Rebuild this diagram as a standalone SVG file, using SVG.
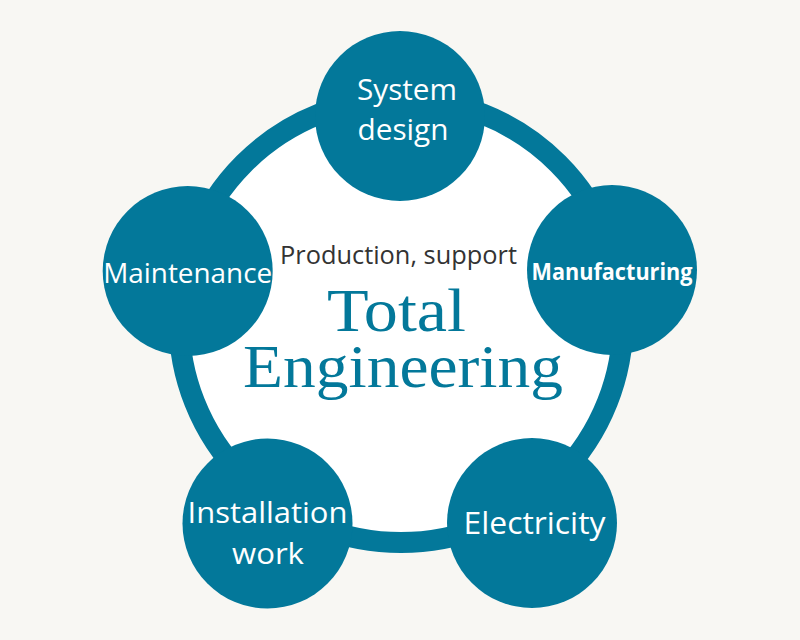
<svg xmlns="http://www.w3.org/2000/svg" width="800" height="640" viewBox="0 0 800 640">
  <style>
    .node { fill: #03789a; }
    .lbl { font-family: "Open Sans", "Noto Sans", "DejaVu Sans", sans-serif; fill: #ffffff; text-anchor: middle; }
    .bold { font-weight: bold; }
    .mid { font-family: "Open Sans", "Noto Sans", "DejaVu Sans", sans-serif; fill: #333333; text-anchor: middle; }
    .big { font-family: "Liberation Serif", "DejaVu Serif", serif; fill: #03789a; text-anchor: middle; }
  </style>
  <rect x="0" y="0" width="800" height="640" fill="#f8f7f3"/>
  <g id="connectors">
    <circle cx="401" cy="320.5" r="222" fill="#ffffff" stroke="#03789a" stroke-width="21"/>
  </g>
  <g id="center">
    <text class="mid" x="398.5" y="264" font-size="25" textLength="237" lengthAdjust="spacingAndGlyphs">Production, support</text>
    <text class="big" x="396.5" y="330.5" font-size="62" textLength="139" lengthAdjust="spacingAndGlyphs">Total</text>
    <text class="big" x="403" y="387" font-size="62" textLength="320" lengthAdjust="spacingAndGlyphs">Engineering</text>
  </g>
  <g id="system-design">
    <circle class="node" cx="400" cy="116" r="85"/>
    <text class="lbl" x="407" y="100" font-size="30" textLength="100" lengthAdjust="spacingAndGlyphs">System</text>
    <text class="lbl" x="403" y="140" font-size="30" textLength="91" lengthAdjust="spacingAndGlyphs">design</text>
  </g>
  <g id="manufacturing">
    <circle class="node" cx="612" cy="270" r="85"/>
    <text class="lbl bold" x="612" y="280" font-size="24" textLength="161" lengthAdjust="spacingAndGlyphs">Manufacturing</text>
  </g>
  <g id="electricity">
    <circle class="node" cx="532" cy="523" r="85"/>
    <text class="lbl" x="534.5" y="534" font-size="31" textLength="142" lengthAdjust="spacingAndGlyphs">Electricity</text>
  </g>
  <g id="installation-work">
    <circle class="node" cx="267.5" cy="523.5" r="85"/>
    <text class="lbl" x="267.5" y="523" font-size="30" textLength="160" lengthAdjust="spacingAndGlyphs">Installation</text>
    <text class="lbl" x="268" y="564" font-size="30" textLength="72" lengthAdjust="spacingAndGlyphs">work</text>
  </g>
  <g id="maintenance">
    <circle class="node" cx="187.7" cy="271" r="85"/>
    <text class="lbl" x="187.7" y="282.5" font-size="28" textLength="169" lengthAdjust="spacingAndGlyphs">Maintenance</text>
  </g>
</svg>
